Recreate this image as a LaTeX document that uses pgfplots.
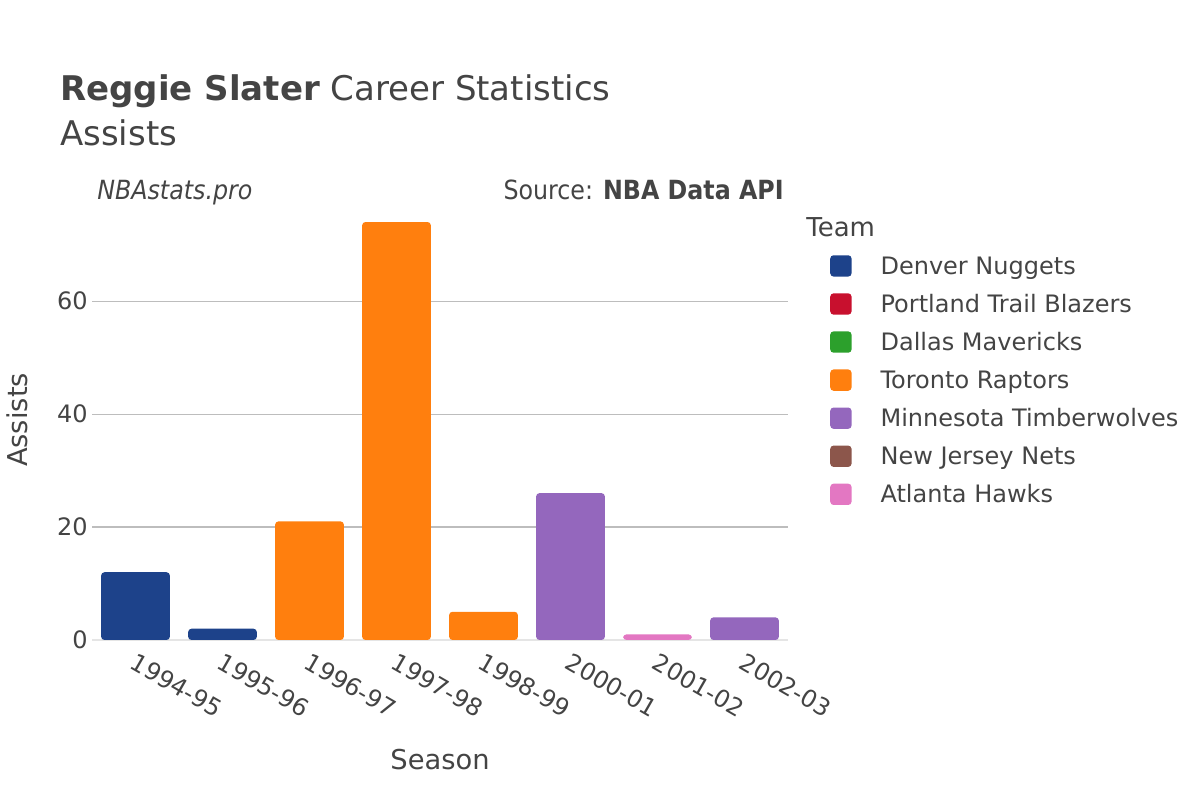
\documentclass[border=0pt]{standalone}
\usepackage{fontspec}
\setmainfont{DejaVu Sans}
\newfontfamily\condfont{DejaVu Sans Condensed}
\usepackage{pgfplots}
\pgfplotsset{compat=1.18}
\definecolor{txt}{HTML}{444444}
\definecolor{gridc}{HTML}{BDBDBD}
\definecolor{zeroc}{HTML}{E5E5E5}
\definecolor{den}{HTML}{1D428A}
\definecolor{por}{HTML}{C8102E}
\definecolor{dal}{HTML}{2CA02C}
\definecolor{tor}{HTML}{FF7F0E}
\definecolor{minn}{HTML}{9467BD}
\definecolor{nj}{HTML}{8C564B}
\definecolor{atl}{HTML}{E377C2}
\pgfplotsset{
  teambar/.style={ybar, bar shift=0pt, bar width=0.79, draw=none, fill=#1,
    rounded corners=2.5pt,
    legend image code/.code={\fill[##1] (0pt,-5.9pt) rectangle (16pt,10.1pt);}},
}
\begin{document}
\begin{tikzpicture}[x=0.75pt, y=0.75pt, lab/.style={inner sep=0pt, text=txt}]
\path[use as bounding box] (0,0) rectangle (1200,800);
\begin{axis}[
  at={(69pt,120pt)}, anchor=south west,
  scale only axis, width=522pt, height=330pt,
  xmin=-0.5, xmax=7.5, ymin=0, ymax=77.9,
  axis line style={draw=none},
  major tick length=0pt,
  xtick={0,...,7},
  xticklabels={1994-95,1995-96,1996-97,1997-98,1998-99,2000-01,2001-02,2002-03},
  ytick={20,40,60},
  extra y ticks={0},
  extra y tick style={ymajorgrids=true, grid style={color=zeroc, line width=1.6pt}},
  ymajorgrids, grid style={color=gridc, line width=0.8pt},
  tick label style={font=\fontsize{18}{21.6}\selectfont, text=txt},
  /pgf/number format/assume math mode=true,
  yticklabel style={inner sep=0pt, xshift=-3pt},
  xticklabel style={rotate=-30, anchor=north west, inner sep=0pt, xshift=6pt, yshift=-7pt},
  legend style={at={(axis description cs:1.0603,0.875)}, anchor=north west,
    draw=none, fill=none, inner sep=0pt, row sep=10.45pt,
    font=\fontsize{18}{21.6}\selectfont, text=txt,
    nodes={inner sep=0pt, text height=12pt, text depth=4pt},
    /tikz/every odd column/.append style={column sep=21.75pt}},
  legend cell align=left,
  clip=false,
]
\addplot[teambar=den] coordinates {(0,12) (1,2)};
\addlegendentry{Denver Nuggets}
\addlegendimage{teambar=por}
\addlegendentry{Portland Trail Blazers}
\addlegendimage{teambar=dal}
\addlegendentry{Dallas Mavericks}
\addplot[teambar=tor] coordinates {(2,21) (3,74) (4,5)};
\addlegendentry{Toronto Raptors}
\addplot[teambar=minn] coordinates {(5,26) (7,4)};
\addlegendentry{Minnesota Timberwolves}
\addlegendimage{teambar=nj}
\addlegendentry{New Jersey Nets}
\addplot[teambar=atl] coordinates {(6,1)};
\addlegendentry{Atlanta Hawks}
\end{axis}
\node[lab, anchor=base west, font=\fontsize{25.5}{30}\selectfont] at (60,699) {\textbf{Reggie Slater} Career Statistics};
\node[lab, anchor=base west, font=\fontsize{25.5}{30}\selectfont] at (60,654) {Assists};
\node[lab, anchor=base west, font=\condfont\itshape\fontsize{19.8}{24}\selectfont] at (97,600) {NBAstats.pro};
\node[lab, anchor=base east, font=\condfont\fontsize{19.8}{24}\selectfont] at (784,600) {Source: \textbf{NBA Data API}};
\node[lab, anchor=base west, font=\fontsize{19.5}{24}\selectfont] at (806,563) {Team};
\node[lab, font=\fontsize{20.5}{24}\selectfont] at (440,40) {Season};
\node[lab, rotate=90, font=\fontsize{20.5}{24}\selectfont] at (17,380) {Assists};
\end{tikzpicture}
\end{document}
